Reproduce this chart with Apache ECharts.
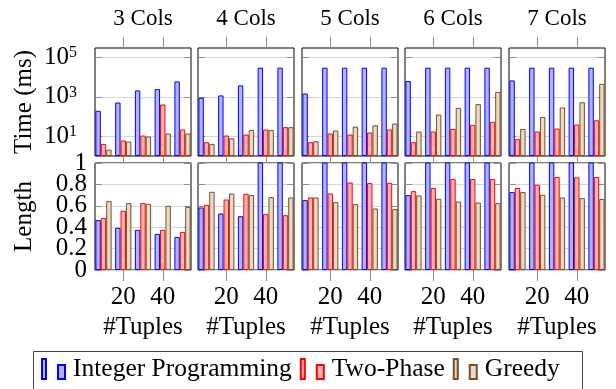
<!DOCTYPE html>
<html><head><meta charset="utf-8">
<script src="https://cdn.jsdelivr.net/npm/echarts@6/dist/echarts.min.js"></script>
<style>html,body{margin:0;padding:0;background:#fff}#c{width:616px;height:389px}</style>
</head><body><div id="c"></div>
<script>
// ---- data ----
const colTitles = ['3 Cols', '4 Cols', '5 Cols', '6 Cols', '7 Cols'];
const tuples = [10, 20, 30, 40, 50];
const xTickValues = [20, 40];
const timeTickValues = [10, 1000, 100000];
// Length tick labels, split in two interleaved sets so they are never treated as overlapping
const lengthTicksA = [0.2, 0.6, 1];
const lengthTicksB = [0, 0.4, 0.8];
const seriesNames = ['Integer Programming', 'Two-Phase', 'Greedy'];

// Time (ms), one row per column count (3..7 Cols)
const ipTime = [
  [195, 516, 2110, 2460, 6050],
  [890, 1180, 3800, 30000, 30000],
  [1480, 30000, 30000, 30000, 30000],
  [6300, 30000, 30000, 30000, 30000],
  [6800, 30000, 30000, 30000, 30000]
];
const tpTime = [
  [4.1, 6.1, 10.9, 410, 22],
  [5.0, 10.9, 12.3, 22, 29],
  [5.0, 13.8, 12.3, 15.5, 22],
  [5.0, 17.4, 23.6, 38, 54],
  [7.1, 17.4, 24.7, 39.5, 65]
];
const grTime = [
  [2.1, 5.4, 9.7, 13.7, 13.7],
  [4.1, 7.9, 21, 21, 29],
  [5.6, 19.6, 31, 36, 44],
  [17.4, 127, 276, 425, 1790],
  [23.6, 96, 289, 535, 4570]
];
// Length
const ipLen = [
  [0.466, 0.394, 0.375, 0.337, 0.309],
  [0.584, 0.528, 0.503, 1.5, 1.5],
  [0.653, 1.5, 1.5, 1.5, 1.5],
  [0.700, 1.5, 1.5, 1.5, 1.5],
  [0.728, 1.5, 1.5, 1.5, 1.5]
];
const tpLen = [
  [0.485, 0.553, 0.625, 0.375, 0.356],
  [0.609, 0.659, 0.712, 0.522, 0.512],
  [0.678, 0.715, 0.818, 0.812, 0.815],
  [0.737, 0.766, 0.850, 0.850, 0.850],
  [0.766, 0.797, 0.869, 0.866, 0.869]
];
const grLen = [
  [0.644, 0.625, 0.619, 0.600, 0.590],
  [0.731, 0.715, 0.700, 0.681, 0.678],
  [0.678, 0.634, 0.616, 0.575, 0.569],
  [0.697, 0.666, 0.640, 0.631, 0.625],
  [0.728, 0.703, 0.678, 0.672, 0.663]
];

// ---- layout / style ----
const FONT = "'Liberation Serif', 'Times New Roman', serif";
const lefts = [95, 198, 302, 405, 509];
const W = 96;
const rows = [{ top: 48, height: 108 }, { top: 163, height: 107 }];
const styles = [
  { color: '#b3b3ff', borderColor: '#0000ff', borderWidth: 1 },
  { color: '#ffb3b3', borderColor: '#ff0000', borderWidth: 1 },
  { color: '#ecd9c6', borderColor: '#73502a', borderWidth: 1 }
];
const TICK = '#8c8c8c';
const GRIDC = '#d6d6d6';
const labelText = { fontFamily: FONT, fontSize: 25, color: '#000' };

const grids = [], xAxes = [], yAxes = [], series = [];
const timeData = [ipTime, tpTime, grTime];
const lenData = [ipLen, tpLen, grLen];
const fmtLen = v => String(+v.toFixed(1));

for (let r = 0; r < 2; r++) {
  for (let c = 0; c < 5; c++) {
    const g = r * 5 + c;
    grids.push({ left: lefts[c], top: rows[r].top, width: W, height: rows[r].height,
      show: true, borderColor: '#000', borderWidth: 1, backgroundColor: 'transparent' });
    const xBase = { gridIndex: g, type: 'value', min: 5.7, max: 54.3,
      axisLine: { show: false }, splitLine: { show: false } };
    // bottom x axis
    xAxes.push(Object.assign({}, xBase, {
      position: 'bottom',
      axisTick: { customValues: xTickValues, length: r ? 11 : 7, lineStyle: { color: TICK } },
      axisLabel: r ? Object.assign({ customValues: xTickValues, margin: 15 }, labelText) : { show: false },
      name: r ? '#Tuples' : '', nameLocation: 'middle', nameGap: 45,
      nameTextStyle: labelText
    }));
    // top x axis
    xAxes.push(Object.assign({}, xBase, {
      position: 'top',
      axisTick: { customValues: xTickValues, length: r ? 7 : 11, lineStyle: { color: TICK } },
      axisLabel: { show: false },
      name: r ? '' : colTitles[c], nameLocation: 'middle', nameGap: 18,
      nameTextStyle: { fontFamily: FONT, fontSize: 23, color: '#000' }
    }));
    if (r === 0) {
      const yBase = { gridIndex: g, type: 'log', logBase: 10, min: 1, max: 300000,
        axisLine: { show: false },
        axisTick: { inside: true, length: 7, customValues: timeTickValues, lineStyle: { color: TICK } } };
      yAxes.push(Object.assign({}, yBase, {
        position: 'left',
        splitLine: { show: true, lineStyle: { color: GRIDC, width: 1.2 } },
        axisLabel: { show: c === 0, customValues: timeTickValues, margin: 18,
          formatter: v => '{b|10}{s|' + Math.round(Math.log10(v)) + '}',
          rich: { b: labelText,
                  s: { fontFamily: FONT, fontSize: 16, color: '#000', verticalAlign: 'top' } } },
        name: c === 0 ? 'Time (ms)' : '', nameLocation: 'middle', nameRotate: 90, nameGap: 58,
        nameTextStyle: labelText
      }));
      yAxes.push(Object.assign({}, yBase, { position: 'right', axisLabel: { show: false }, splitLine: { show: false } }));
    } else {
      const yBase = { gridIndex: g, type: 'value', min: 0, max: 1, interval: 0.2,
        axisLine: { show: false },
        axisTick: { inside: true, length: 7, lineStyle: { color: TICK } } };
      yAxes.push(Object.assign({}, yBase, {
        position: 'left',
        splitLine: { show: true, lineStyle: { color: GRIDC, width: 1.2 } },
        axisLabel: Object.assign({ show: c === 0, margin: 8, customValues: lengthTicksA,
          showMinLabel: true, showMaxLabel: true, formatter: fmtLen }, labelText),
        name: c === 0 ? 'Length' : '', nameLocation: 'middle', nameRotate: 90, nameGap: 58,
        nameTextStyle: labelText
      }));
      yAxes.push(Object.assign({}, yBase, { position: 'right', axisLabel: { show: false }, splitLine: { show: false } }));
    }
    const src = r === 0 ? timeData : lenData;
    for (let s = 0; s < 3; s++) {
      series.push({
        type: 'bar', name: seriesNames[s],
        xAxisIndex: 2 * g, yAxisIndex: 2 * g,
        barWidth: 5.4, barGap: '0%', clip: true,
        itemStyle: styles[s],
        emphasis: { disabled: true },
        data: tuples.map((t, i) => [t, src[s][c][i]])
      });
    }
  }
}
// extra label-only axis carrying the other half of the Length labels
yAxes.push({ gridIndex: 5, type: 'value', min: 0, max: 1, position: 'left',
  axisLine: { show: false }, axisTick: { show: false }, splitLine: { show: false },
  axisLabel: Object.assign({ margin: 8, customValues: lengthTicksB, showMinLabel: true, showMaxLabel: true,
    formatter: fmtLen }, labelText) });

const chart = echarts.init(document.getElementById('c'), null, { renderer: 'canvas' });
chart.setOption({
  animation: false,
  textStyle: { fontFamily: FONT },
  grid: grids, xAxis: xAxes, yAxis: yAxes, series: series,
  legend: {
    data: seriesNames, left: 41, top: 356, padding: 0, itemWidth: 23, itemHeight: 20, itemGap: 8,
    icon: 'path://M0,0L4,0L4,20L0,20Z M16,6L23,6L23,20L16,20Z',
    selectedMode: false,
    textStyle: { fontFamily: FONT, fontSize: 25.5, color: '#000', padding: [0, 0, 0, 3] }
  },
  graphic: [{
    type: 'rect', shape: { x: 33.5, y: 351.5, width: 549, height: 60 },
    style: { fill: 'none', stroke: '#444', lineWidth: 1 }, silent: true
  }]
});
</script></body></html>
